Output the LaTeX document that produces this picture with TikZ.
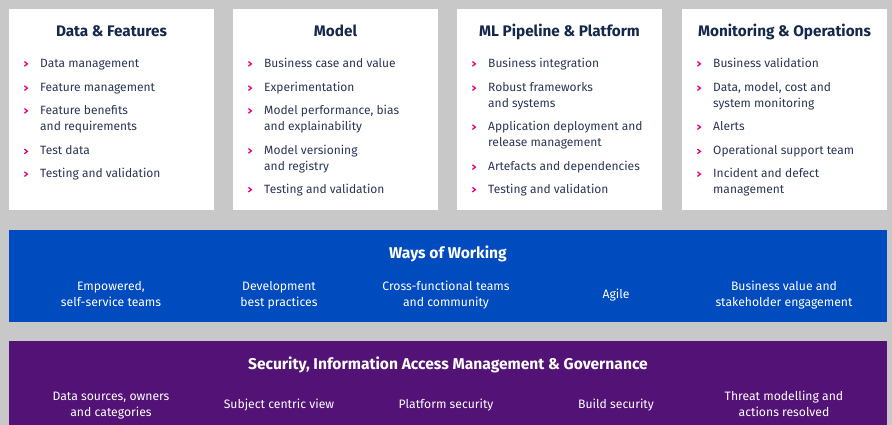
\documentclass[tikz,border=0pt]{standalone}
\usepackage{fontspec}
\setmainfont{Fira Sans}
\definecolor{bgc}{HTML}{C8C8C8}
\definecolor{bluec}{HTML}{004BBE}
\definecolor{purc}{HTML}{531275}
\definecolor{navy}{HTML}{14284B}
\definecolor{itemc}{HTML}{2B3652}
\definecolor{mag}{HTML}{E6007E}
\tikzset{
  panel/.style={fill=white, draw=none, inner sep=0pt, minimum width=205pt, minimum height=201pt},
  band/.style={draw=none, inner sep=0pt, minimum width=878pt},
  ptitle/.style={anchor=base, text=navy, font=\fontsize{15.3}{18}\selectfont\bfseries, inner sep=0pt},
  item/.style={anchor=base west, text=itemc, font=\fontsize{12}{16}\selectfont, align=left, inner sep=0pt},
  btitle/.style={anchor=base, text=white, font=\fontsize{15.6}{18}\selectfont\bfseries, inner sep=0pt},
  bitem/.style={anchor=base, text=white, font=\fontsize{12.2}{16}\selectfont, align=center, inner sep=0pt},
  chev/.pic={\draw[mag, line width=1.3pt] (-1.6,-2.3) -- (1.4,0) -- (-1.6,2.3);}
}
% one-line item: baseline at #3
\newcommand\itm[4]{\node[item] (#1) at (#2,#3) {#4}; \pic at ({#2-14},{#3-3.6}) {chev};}
% two-line item: first baseline at #3 (node base = last line)
\newcommand\itmm[4]{\node[item] (#1) at (#2,{#3+16}) {#4}; \pic at ({#2-14},{#3-3.6}) {chev};}
\begin{document}
\begin{tikzpicture}[x=1pt,y=-1pt]
\useasboundingbox (0,0) rectangle (892,425);
\fill[bgc] (0,0) rectangle (892,425);
% panels
\node[panel] (p1) at (111.5,109.5) {};
\node[panel] (p2) at (335.5,109.5) {};
\node[panel] (p3) at (559.5,109.5) {};
\node[panel] (p4) at (784.5,109.5) {};
\node[ptitle] (t1) at (111.5,37) {Data \& Features};
\node[ptitle] (t2) at (335.5,37) {Model};
\node[ptitle] (t3) at (559.5,37) {ML Pipeline \& Platform};
\node[ptitle] (t4) at (784.5,37) {Monitoring \& Operations};
% panel 1
\itm{a1}{40}{67.5}{Data management}
\itm{a2}{40}{91.7}{Feature management}
\itmm{a3}{40}{114.5}{Feature benefits\\and requirements}
\itm{a4}{40}{155}{Test data}
\itm{a5}{40}{177.7}{Testing and validation}
% panel 2
\itm{b1}{264}{67.5}{Business case and value}
\itm{b2}{264}{91.7}{Experimentation}
\itmm{b3}{264}{114.5}{Model performance, bias\\and explainability}
\itmm{b4}{264}{154.5}{Model versioning\\and registry}
\itm{b5}{264}{193.3}{Testing and validation}
% panel 3
\itm{c1}{488}{67.5}{Business integration}
\itmm{c2}{488}{91.7}{Robust frameworks\\and systems}
\itmm{c3}{488}{130.7}{Application deployment and\\release management}
\itm{c4}{488}{170.7}{Artefacts and dependencies}
\itm{c5}{488}{193.3}{Testing and validation}
% panel 4
\itm{d1}{713}{67.5}{Business validation}
\itmm{d2}{713}{91.7}{Data, model, cost and\\system monitoring}
\itm{d3}{713}{130.7}{Alerts}
\itm{d4}{713}{155}{Operational support team}
\itmm{d5}{713}{177.7}{Incident and defect\\management}
% ways of working band
\node[band, fill=bluec, minimum height=92pt] (wow) at (448,276) {};
\node[btitle] (wt) at (448,258) {Ways of Working};
\node[bitem] (w1) at (111,306) {Empowered,\\self-service teams};
\node[bitem] (w2) at (279,306) {Development\\best practices};
\node[bitem] (w3) at (446,306) {Cross-functional teams\\and community};
\node[bitem] (w4) at (616,298) {Agile};
\node[bitem] (w5) at (784,306) {Business value and\\stakeholder engagement};
% security band
\node[band, fill=purc, minimum height=90pt] (sec) at (448,386) {};
\node[btitle] (st) at (448,369) {Security, Information Access Management \& Governance};
\node[bitem] (s1) at (111,416.7) {Data sources, owners\\and categories};
\node[bitem] (s2) at (279,408.3) {Subject centric view};
\node[bitem] (s3) at (446,408.3) {Platform security};
\node[bitem] (s4) at (616,408.3) {Build security};
\node[bitem] (s5) at (784,416.7) {Threat modelling and\\actions resolved};
\end{tikzpicture}
\end{document}
